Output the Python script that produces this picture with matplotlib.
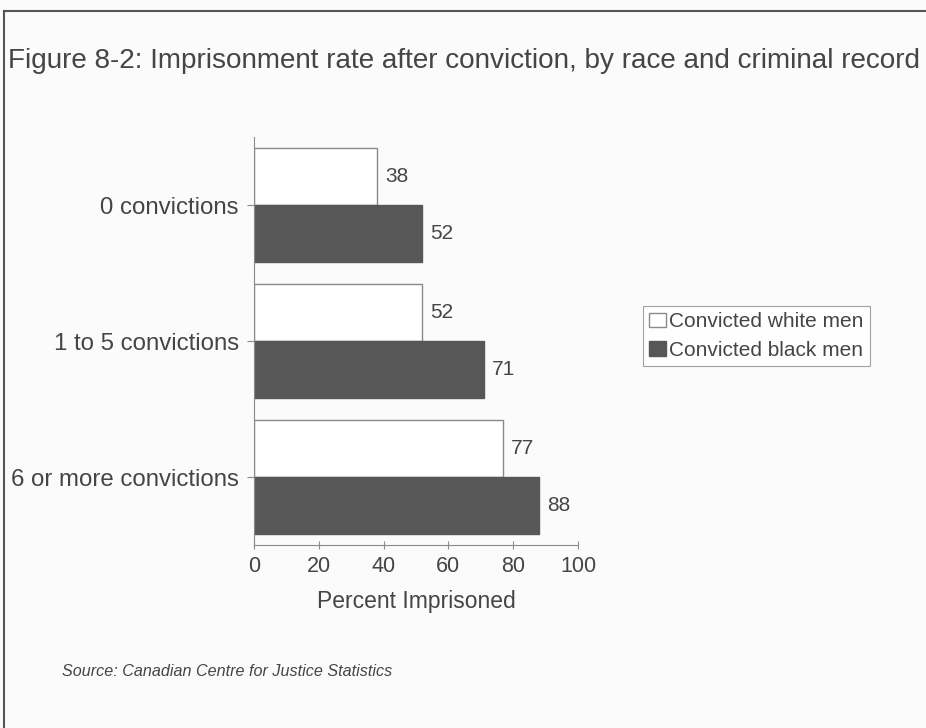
import numpy as np
import matplotlib.pyplot as plt
from matplotlib.lines import Line2D

# Data
categories = ["0 convictions", "1 to 5 convictions", "6 or more convictions"]
white_men = [38, 52, 77]
black_men = [52, 71, 88]
series_names = ["Convicted white men", "Convicted black men"]

title = "Figure 8-2: Imprisonment rate after conviction, by race and criminal record"
source = "Source: Canadian Centre for Justice Statistics"

text_col = "#454545"
edge_col = "#8a8a8a"
dark_col = "#575757"

plt.rcParams['font.family'] = ['Liberation Sans', 'DejaVu Sans']

fig = plt.figure(figsize=(9.26, 7.28), dpi=100)
fig.patch.set_facecolor("#fbfbfb")

# Page frame (top and left edges of the box)
fig.add_artist(Line2D([4/926, 4/926], [0, 1 - 11/728], transform=fig.transFigure,
                      color="#555555", lw=1.5))
fig.add_artist(Line2D([4/926, 1], [1 - 11/728, 1 - 11/728], transform=fig.transFigure,
                      color="#555555", lw=1.5))

fig.text(8/926, 1 - 61/728, title, fontsize=20.1, color=text_col, va="center", ha="left")
fig.text(62/926, 1 - 671/728, source, fontsize=11.6, style="italic", color=text_col,
         va="center", ha="left")

ax = fig.add_axes([254/926, 183/728, 324/926, 408/728])
ax.set_facecolor("none")

y = np.arange(len(categories))
h = 0.42
ax.barh(y - h/2, white_men, height=h, color="white", edgecolor=edge_col, linewidth=1)
ax.barh(y + h/2, black_men, height=h, color=dark_col, edgecolor=dark_col, linewidth=1)

for yi, v in zip(y, white_men):
    ax.text(v + 2.4, yi - h/2, str(v), va="center", ha="left", fontsize=15, color=text_col)
for yi, v in zip(y, black_men):
    ax.text(v + 2.4, yi + h/2, str(v), va="center", ha="left", fontsize=15, color=text_col)

ax.set_xlim(0, 100)
ax.set_ylim(2.5, -0.5)
ax.set_yticks(y)
ax.set_yticklabels(categories, fontsize=17.3, color=text_col)
ax.set_xticks(np.arange(0, 101, 20))
ax.set_xticklabels([str(t) for t in range(0, 101, 20)], fontsize=15.5, color=text_col)
ax.set_xlabel("Percent Imprisoned", fontsize=16.5, color=text_col, labelpad=9)

for s in ["top", "right"]:
    ax.spines[s].set_visible(False)
for s in ["left", "bottom"]:
    ax.spines[s].set_color(edge_col)
ax.tick_params(axis="x", direction="inout", length=6, color=edge_col, pad=5)
ax.tick_params(axis="y", direction="out", length=5, color=edge_col, pad=6)

handles = [plt.Rectangle((0, 0), 1, 1, facecolor="white", edgecolor=edge_col),
           plt.Rectangle((0, 0), 1, 1, facecolor=dark_col, edgecolor=dark_col)]
leg = fig.legend(handles, series_names, loc="center left",
                 bbox_to_anchor=(643/926, 1 - 336/728), fontsize=15,
                 frameon=True, fancybox=False, borderpad=0.3, handlelength=0.8,
                 handleheight=0.7, handletextpad=0.15, labelspacing=0.45,
                 borderaxespad=0)
leg.get_frame().set_edgecolor(edge_col)
leg.get_frame().set_linewidth(0.8)
for t in leg.get_texts():
    t.set_color(text_col)

fig.savefig("out.png", dpi=100, facecolor=fig.get_facecolor())
